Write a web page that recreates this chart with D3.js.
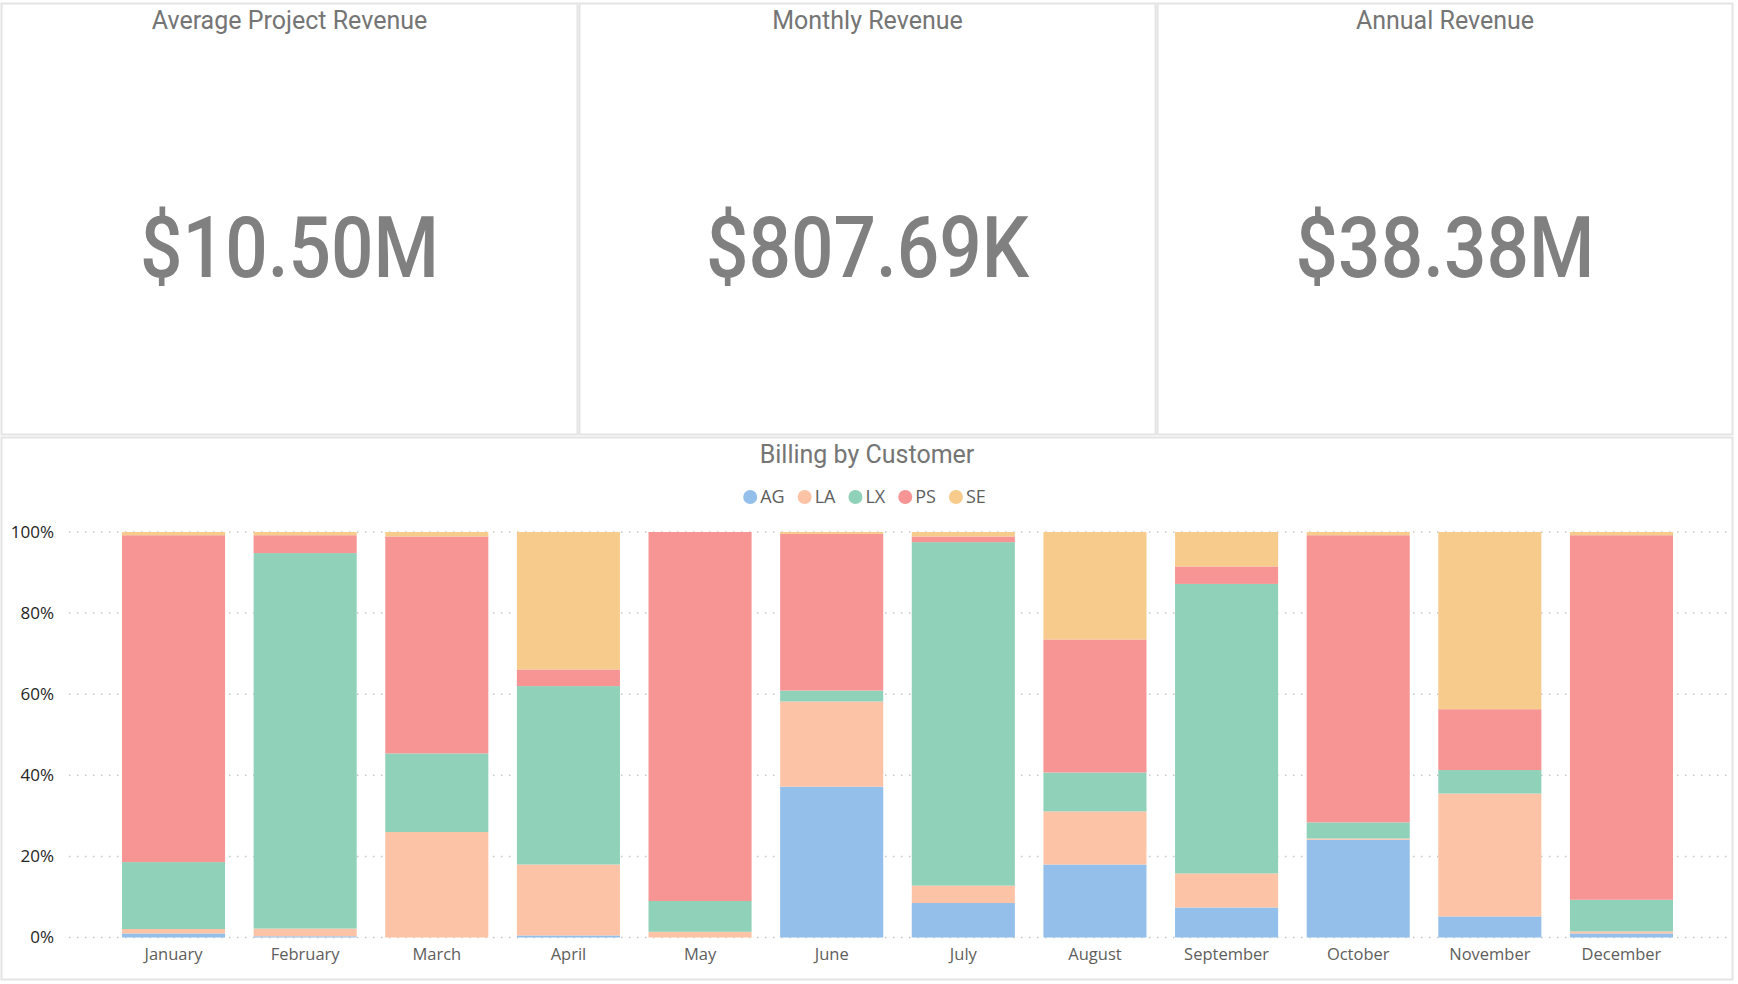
<!DOCTYPE html>
<html>
<head>
<meta charset="utf-8">
<script src="https://cdn.jsdelivr.net/npm/d3@7"></script>
<style>
  body { margin: 0; background: #fff; }
  svg { display: block; }
</style>
</head>
<body>
<div id="chart"></div>
<script>
// cards
const cardTitles = ["Average Project Revenue", "Monthly Revenue", "Annual Revenue"];
const cardValues = ["$10.50M", "$807.69K", "$38.38M"];

// billing by customer, share of month (%)
const months = ["January", "February", "March", "April", "May", "June", "July",
  "August", "September", "October", "November", "December"];
const customers = ["AG", "LA", "LX", "PS", "SE"];
const AG = [1.0, 0.3, 0.0, 0.5, 0.0, 37.2, 8.5, 18.0, 7.4, 24.1, 5.2, 1.0];
const LA = [1.1, 1.9, 26.0, 17.5, 1.4, 21.0, 4.3, 13.1, 8.4, 0.3, 30.3, 0.5];
const LX = [16.5, 92.6, 19.4, 44.0, 7.6, 2.7, 84.7, 9.6, 71.4, 4.0, 5.8, 7.8];
const PS = [80.6, 4.4, 53.5, 4.1, 91.0, 38.6, 1.4, 32.8, 4.3, 70.8, 15.0, 89.9];
const SE = [0.8, 0.8, 1.1, 33.9, 0.0, 0.5, 1.1, 26.5, 8.5, 0.8, 43.7, 0.8];
const yTicks = [0, 0.2, 0.4, 0.6, 0.8, 1];

const pallete = ["#93BFEA", "#FDC3A6", "#90D1BA", "#F79494", "#F7CB8C"];

const width = 1738, height = 984;
const titleFont = "Roboto, 'DejaVu Sans', sans-serif";
const axisFont = "'Segoe UI', 'Open Sans', 'Noto Sans', sans-serif";
const border = "#E4E4E4";

const svg = d3.select("#chart").append("svg")
    .attr("width", width)
    .attr("height", height);

// ---- KPI cards
const cardX = [1.5, 579.5, 1157.5];
const cardW = [576, 576, 575];
const cards = svg.append("g").selectAll("g")
  .data(cardTitles)
  .join("g")
    .attr("transform", (d, i) => `translate(${cardX[i]},3.5)`);

cards.append("rect")
    .attr("width", (d, i) => cardW[i])
    .attr("height", 431)
    .attr("fill", "#fff")
    .attr("stroke", border)
    .attr("stroke-width", 2);

cards.append("text")
    .attr("x", (d, i) => cardW[i] / 2)
    .attr("y", 25)
    .attr("text-anchor", "middle")
    .attr("font-family", titleFont)
    .attr("font-size", 25)
    .attr("fill", "#757575")
    .text(d => d);

cards.append("text")
    .attr("transform", (d, i) => `translate(${cardW[i] / 2},273) scale(0.87,1)`)
    .attr("text-anchor", "middle")
    .attr("font-family", titleFont)
    .attr("font-size", 86)
    .attr("font-weight", 500)
    .attr("fill", "#808080")
    .text((d, i) => cardValues[i]);

// ---- Billing by customer panel
svg.append("rect")
    .attr("x", 1.5)
    .attr("y", 437.5)
    .attr("width", 1731)
    .attr("height", 542)
    .attr("fill", "#fff")
    .attr("stroke", border)
    .attr("stroke-width", 2);

svg.append("text")
    .attr("x", 867)
    .attr("y", 463)
    .attr("text-anchor", "middle")
    .attr("font-family", titleFont)
    .attr("font-size", 25)
    .attr("fill", "#757575")
    .text("Billing by Customer");

const series = [AG, LA, LX, PS, SE];
const table = months.map((m, i) => {
  const row = { month: m };
  customers.forEach((c, j) => row[c] = series[j][i]);
  return row;
});

const stack = d3.stack()
    .keys(customers)
    .offset(d3.stackOffsetExpand)(table);

const x = d3.scaleBand()
    .domain(months)
    .range([122, 1673])
    .paddingInner(0.217)
    .paddingOuter(0);

const y = d3.scaleLinear()
    .domain([0, 1])
    .range([937.5, 532]);

const color = d3.scaleOrdinal().domain(customers).range(pallete);

// gridlines
svg.append("g")
  .selectAll("line")
  .data(yTicks)
  .join("line")
    .attr("x1", 69)
    .attr("x2", 1728)
    .attr("y1", d => y(d))
    .attr("y2", d => y(d))
    .attr("stroke", "#C8C6C4")
    .attr("stroke-width", 1.5)
    .attr("stroke-dasharray", "1.5 6.5");

// bars
svg.append("g")
  .selectAll("g")
  .data(stack)
  .join("g")
    .attr("fill", d => color(d.key))
  .selectAll("rect")
  .data(d => d)
  .join("rect")
    .attr("x", d => x(d.data.month))
    .attr("y", d => y(d[1]))
    .attr("height", d => y(d[0]) - y(d[1]))
    .attr("width", x.bandwidth());

// y axis
svg.append("g")
    .attr("transform", "translate(54,0)")
    .call(d3.axisLeft(y).tickValues(yTicks).tickFormat(d3.format(".0%")).tickSize(0).tickPadding(0))
    .call(g => g.select(".domain").remove())
    .call(g => g.selectAll("text")
        .attr("font-family", axisFont)
        .attr("font-size", 17)
        .attr("fill", "#252423"));

// x axis
svg.append("g")
    .attr("transform", "translate(0,937.5)")
    .call(d3.axisBottom(x).tickSize(0).tickPadding(11))
    .call(g => g.select(".domain").remove())
    .call(g => g.selectAll("text")
        .attr("font-family", axisFont)
        .attr("font-size", 16.5)
        .attr("fill", "#605E5C"));

// legend
const legend = svg.append("g").attr("transform", "translate(0,497)");
const items = legend.selectAll("g")
  .data(customers)
  .join("g");
items.append("circle")
    .attr("r", 7)
    .attr("fill", d => color(d));
items.append("text")
    .attr("x", 10)
    .attr("dy", "0.35em")
    .attr("font-family", axisFont)
    .attr("font-size", 18)
    .attr("fill", "#605E5C")
    .text(d => d);

let cx = 0;
const pos = [];
items.each(function () {
  const w = this.querySelector("text").getComputedTextLength();
  pos.push(cx);
  cx += 7 + 10 + w + 13;
});
const total = cx - 13 + 7;
const start = 868 - total / 2 + 7;
items.attr("transform", (d, i) => `translate(${start + pos[i]},0)`);
</script>
</body>
</html>
